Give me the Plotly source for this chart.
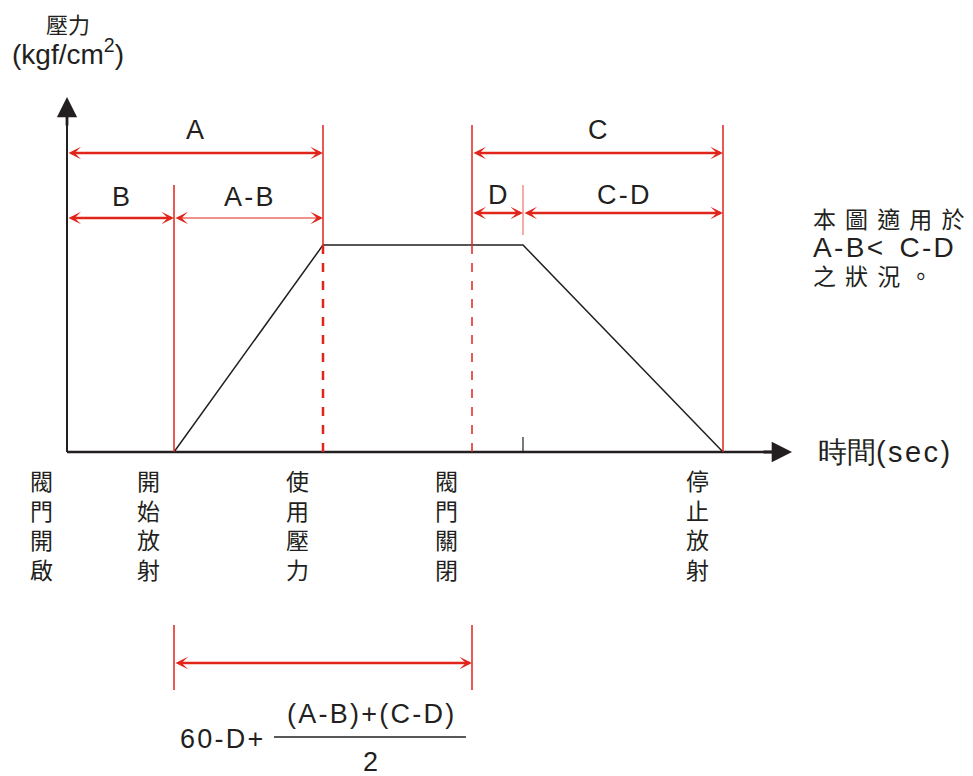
import plotly.graph_objects as go

# 時間點 (原點 = 閥門開啟)
event_names = ["閥門開啟", "開始放射", "使用壓力", "閥門關閉", "停止放射"]
event_t = [0, 107, 256, 405, 656]
t_d_end = 456          # D 結束，開始降壓

# 壓力曲線 (梯形)
curve_t = [107, 256, 456, 656]
curve_p = [0, 207, 207, 0]

# 區間
spans_top = [("A", 0, 256), ("C", 405, 656)]
spans_left = [("B", 0, 107), ("A-B", 107, 256)]
spans_right = [("D", 405, 456), ("C-D", 456, 656)]

note_cjk = ["本圖適用於", "之狀況。"]

RED = "#e1251b"
PINK = "#f2918b"
INK = "#231f20"
LATIN = "Liberation Sans, Arial, sans-serif"
CJK = "Noto Sans CJK TC, sans-serif"
HAIR = "\u200a"
CJK_GAP = "\u2004\u200a"

fig = go.Figure()

# 壓力曲線
fig.add_trace(go.Scatter(x=curve_t, y=curve_p, mode="lines",
                         line=dict(color=INK, width=1.5), hoverinfo="skip"))


def track(s):
    # 稍微拉開字距
    return HAIR.join(s)


def vline(t, y0, y1, color=RED, width=1.5, dash="solid"):
    fig.add_shape(type="line", x0=t, x1=t, y0=y0, y1=y1,
                  line=dict(color=color, width=width, dash=dash))


def dim(t0, t1, y, width=2.5):
    # 雙向紅色箭頭
    fig.add_annotation(x=t1, y=y, ax=t0, ay=y, xref="x", yref="y",
                       axref="x", ayref="y", text="", showarrow=True,
                       arrowhead=3, startarrowhead=3, arrowside="end+start",
                       arrowsize=2.1 / width, startarrowsize=2.1 / width,
                       arrowwidth=width, arrowcolor=RED,
                       standoff=0, startstandoff=0)


def label(x, y, text, size=27, font=LATIN, **kw):
    fig.add_annotation(x=x, y=y, xref="x", yref="y", text=text, showarrow=False,
                       font=dict(family=font, size=size, color=INK), **kw)


# 座標軸
fig.add_shape(type="line", x0=0, x1=705, y0=0, y1=0, line=dict(color=INK, width=2.5))
fig.add_shape(type="line", x0=0, x1=0, y0=0, y1=340, line=dict(color=INK, width=2))
for (x, y, ax, ay) in [(725, 0, 695, 0), (0, 355, 0, 325)]:
    fig.add_annotation(x=x, y=y, ax=ax, ay=ay, xref="x", yref="y", axref="x", ayref="y",
                       text="", showarrow=True, arrowhead=2, arrowsize=1.45,
                       arrowwidth=2.8, arrowcolor=INK, standoff=0)

# 紅色垂直線
vline(event_t[1], 0, 267)
vline(event_t[2], 207, 327, width=1.5)
vline(event_t[2], 0, 207, width=2.5, dash="dash")
vline(event_t[3], 207, 327)
vline(event_t[3], 0, 207, width=1.5, dash="dash")
vline(t_d_end, 217, 267, color=PINK, width=1.5)
vline(event_t[4], 0, 327)
fig.add_shape(type="line", x0=t_d_end, x1=t_d_end, y0=0, y1=15,
              line=dict(color=INK, width=1.2))

# 上方區間標示
for name, t0, t1 in spans_top:
    dim(t0, t1, 299)
    label((t0 + t1) / 2, 322, name)
for name, t0, t1 in spans_left:
    dim(t0, t1, 234, width=2.5 if name == "B" else 1.2)
    label((t0 + t1) / 2, 255, track(name))
for name, t0, t1 in spans_right:
    dim(t0, t1, 239)
    label((t0 + t1) / 2, 257, track(name))

# 下方事件名稱 (直書，每字一個標註)
for name, t in zip(event_names, event_t):
    for i, ch in enumerate(name):
        label(t - 26, -28 - 29.7 * i, ch, size=23, font=CJK)

# 軸標題
label(1, 429, "壓力", size=22, font=CJK)
label(1, 400, "(kgf/cm<sup>2</sup>)", size=28)
label(749, 0, "時間" + track("(sec)"), size=29, xanchor="left")

# 右側說明
label(744, 234, CJK_GAP.join(note_cjk[0]), size=23, font=CJK, xanchor="left")
label(744, 205, track("A-B") + HAIR + "&lt;\u2002" + HAIR + track("C-D"), size=28, xanchor="left")
label(744, 177, CJK_GAP.join(note_cjk[1]), size=23, font=CJK, xanchor="left")

# 下方時間區間與公式
lo, hi = event_t[1], event_t[3]
vline(lo, -238, -173)
vline(hi, -238, -173)
dim(lo, hi, -211)
label(154, -287, track("60-D+"), size=27)
label(303, -262, track("(A-B)+(C-D)"), size=27)
fig.add_shape(type="line", x0=207, x1=399, y0=-285, y1=-285,
              line=dict(color=INK, width=1.5))
label(303, -310, "2", size=27)

fig.update_layout(
    width=973, height=776,
    margin=dict(l=0, r=0, t=0, b=0),
    paper_bgcolor="white", plot_bgcolor="white",
    showlegend=False,
    # 頁面本身有 8px 邊距，座標範圍平移補償
    xaxis=dict(range=[-59, 914], visible=False, fixedrange=True),
    yaxis=dict(range=[-332, 444], visible=False, fixedrange=True),
)

fig.write_html("out.html")
